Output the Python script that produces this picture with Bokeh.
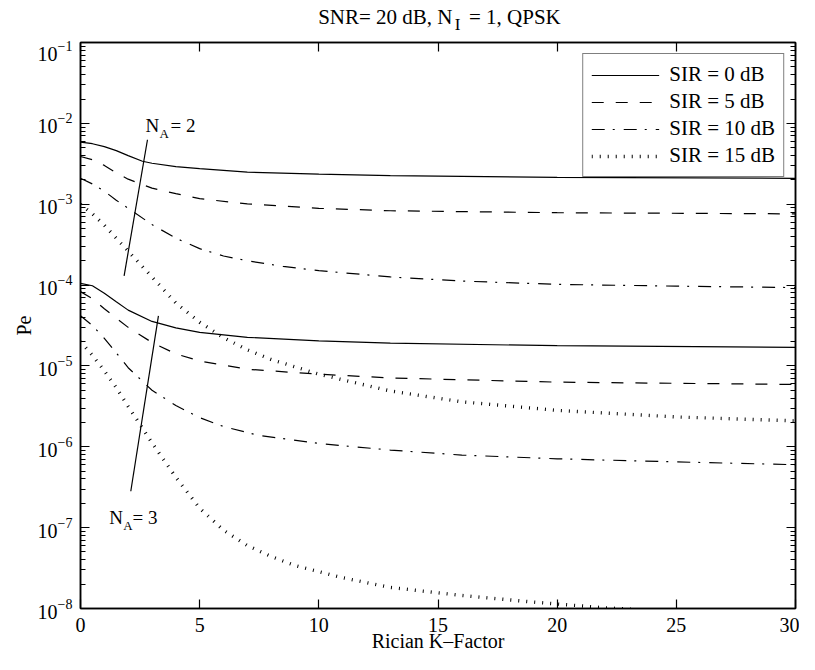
from bokeh.plotting import figure
from bokeh.layouts import column
from bokeh.models import (Range1d, LogAxis, LinearAxis, Label, Legend, LegendItem,
                          FixedTicker, LogTickFormatter)
from bokeh.core.properties import value
from bokeh.embed import file_html
from bokeh.resources import INLINE

FONT = "Liberation Serif"

# ---------------- data ----------------
# N_A = 2
k_na2_sir0 = [0, 0.5, 1, 1.5, 2, 2.6, 3, 4, 5, 7, 10, 13, 20, 30]
pe_na2_sir0 = [5.87e-3, 5.60e-3, 5.16e-3, 4.60e-3, 3.99e-3, 3.40e-3, 3.21e-3, 2.91e-3,
               2.75e-3, 2.49e-3, 2.35e-3, 2.26e-3, 2.15e-3, 2.09e-3]

k_na2_sir5 = [0, 0.5, 1, 1.5, 2, 3, 4, 5, 7, 10, 13, 20, 30]
pe_na2_sir5 = [3.89e-3, 3.55e-3, 3.02e-3, 2.45e-3, 2.04e-3, 1.58e-3, 1.35e-3, 1.17e-3,
               1.01e-3, 8.9e-4, 8.3e-4, 7.85e-4, 7.6e-4]

k_na2_sir10 = [0, 0.5, 1, 1.5, 2, 3, 4, 5, 6, 7, 8.5, 10, 13, 16, 20, 25, 30]
pe_na2_sir10 = [2.09e-3, 1.78e-3, 1.45e-3, 1.12e-3, 8.9e-4, 5.6e-4, 3.8e-4, 2.82e-4,
                2.29e-4, 2.0e-4, 1.70e-4, 1.51e-4, 1.26e-4, 1.12e-4, 1.02e-4, 9.7e-5, 9.3e-5]

k_na2_sir15 = [0, 0.5, 1, 1.5, 2, 3, 4, 5, 6, 7, 8, 10, 13, 16, 20, 25, 30]
pe_na2_sir15 = [1.0e-3, 7.6e-4, 5.5e-4, 3.8e-4, 2.63e-4, 1.26e-4, 6.0e-5, 3.47e-5,
                2.24e-5, 1.58e-5, 1.20e-5, 7.9e-6, 4.9e-6, 3.6e-6, 2.82e-6, 2.34e-6, 2.09e-6]

# N_A = 3
k_na3_sir0 = [0, 0.5, 1, 1.5, 2, 3, 4, 5, 7, 10, 13, 20, 30]
pe_na3_sir0 = [1.05e-4, 9.8e-5, 7.9e-5, 6.2e-5, 4.9e-5, 3.55e-5, 2.95e-5, 2.60e-5,
               2.26e-5, 2.04e-5, 1.91e-5, 1.78e-5, 1.70e-5]

k_na3_sir5 = [0, 0.5, 1, 1.5, 2, 3, 4, 5, 7, 10, 13, 20, 30]
pe_na3_sir5 = [8.3e-5, 6.8e-5, 5.1e-5, 3.9e-5, 3.0e-5, 1.95e-5, 1.41e-5, 1.15e-5,
               9.1e-6, 7.9e-6, 7.1e-6, 6.3e-6, 5.9e-6]

k_na3_sir10 = [0, 0.5, 1, 1.5, 2, 3, 4, 5, 6, 7.5, 10, 13, 16, 20, 25, 30]
pe_na3_sir10 = [4.17e-5, 3.16e-5, 2.19e-5, 1.45e-5, 9.5e-6, 5.0e-6, 3.24e-6, 2.29e-6,
                1.78e-6, 1.38e-6, 1.10e-6, 9.1e-7, 7.9e-7, 7.1e-7, 6.5e-7, 6.0e-7]

k_na3_sir15 = [0, 0.5, 1, 1.5, 2, 3, 4, 5, 6, 7, 8, 9, 11, 13, 16, 19, 22, 25, 30]
pe_na3_sir15 = [2.0e-5, 1.35e-5, 8.7e-6, 5.4e-6, 3.16e-6, 1.12e-6, 4.2e-7, 1.74e-7,
                9.3e-8, 6.0e-8, 4.4e-8, 3.4e-8, 2.4e-8, 1.82e-8, 1.45e-8, 1.20e-8,
                1.02e-8, 9.1e-9, 7.9e-9]

# annotation pointer lines (K, Pe)
ptr_na2_k = [2.81, 1.83]
ptr_na2_pe = [6.27e-3, 1.30e-4]
ptr_na3_k = [3.27, 2.11]
ptr_na3_pe = [4.17e-5, 2.82e-7]

legend_labels = ["SIR = 0 dB", "SIR = 5 dB", "SIR = 10 dB", "SIR = 15 dB"]
x_ticks = [0, 5, 10, 15, 20, 25, 30]
y_ticks = [1e-8, 1e-7, 1e-6, 1e-5, 1e-4, 1e-3, 1e-2, 1e-1]

W = 799
LEFT = 80
RIGHT = 4
TITLE_H = 40

xr = Range1d(0, 30)

# ---------------- title strip (same x mapping as the plot) ----------------
tf = figure(width=W, height=TITLE_H, x_range=xr, y_range=Range1d(0, TITLE_H),
            output_backend="svg", toolbar_location=None,
            min_border_left=LEFT, min_border_right=RIGHT, min_border_top=0, min_border_bottom=0)
tf.axis.visible = False
tf.grid.visible = False
tf.outline_line_color = None
tf.background_fill_color = "white"
tf.border_fill_color = "white"
tf.text(x=[15.61], y=[24], text=["SNR= 20 dB, N"], text_font=value(FONT),
        text_font_size="21px", text_align="right", text_baseline="alphabetic", text_color="black")
tf.text(x=[15.70], y=[16], text=["I"], text_font=value(FONT),
        text_font_size="17px", text_align="left", text_baseline="alphabetic", text_color="black")
tf.text(x=[16.30], y=[24], text=["= 1, QPSK"], text_font=value(FONT),
        text_font_size="21px", text_align="left", text_baseline="alphabetic", text_color="black")

# ---------------- main figure ----------------
p = figure(width=W, height=654 - TITLE_H, y_axis_type="log",
           x_range=xr, y_range=Range1d(1e-8, 1e-1),
           output_backend="svg", toolbar_location=None,
           min_border_left=LEFT, min_border_right=RIGHT, min_border_top=2, min_border_bottom=10)
p.grid.visible = False
p.outline_line_color = "black"
p.outline_line_width = 1.5
p.background_fill_color = "white"
p.border_fill_color = "white"

minor = [m * t for t in y_ticks[:-1] for m in range(2, 10)]
yticker = FixedTicker(ticks=y_ticks, minor_ticks=minor)
xticker = FixedTicker(ticks=x_ticks)

def style_axis(ax, labels=True):
    ax.axis_line_color = "black"
    ax.axis_line_width = 1.5
    ax.major_tick_line_color = "black"
    ax.major_tick_line_width = 1.2
    ax.minor_tick_line_color = "black"
    ax.minor_tick_line_width = 1.0
    ax.major_tick_in = 9
    ax.major_tick_out = 0
    ax.minor_tick_in = 5
    ax.minor_tick_out = 0
    ax.major_label_text_font = FONT
    if labels:
        ax.major_label_text_font_size = "20px"
        ax.major_label_text_color = "black"
    else:
        ax.major_label_text_font_size = "1px"
        ax.major_label_text_color = None
        ax.major_label_standoff = 0

xa = p.xaxis[0]
xa.ticker = xticker
style_axis(xa)
xa.minor_tick_line_color = None
xa.major_label_standoff = 9
xa.axis_label = "Rician K\u2013Factor"
xa.axis_label_text_font = FONT
xa.axis_label_text_font_size = "20px"
xa.axis_label_text_font_style = "normal"
xa.axis_label_text_color = "black"
xa.axis_label_standoff = -5

ya = p.yaxis[0]
ya.ticker = yticker
ya.formatter = LogTickFormatter()
style_axis(ya)
ya.major_label_standoff = 8
ya.axis_label = "Pe"
ya.axis_label_text_font = FONT
ya.axis_label_text_font_size = "20px"
ya.axis_label_text_font_style = "normal"
ya.axis_label_text_color = "black"
ya.axis_label_standoff = 0

ra = LogAxis(ticker=yticker)
style_axis(ra, labels=False)
p.add_layout(ra, "right")

ta = LinearAxis(ticker=xticker)
style_axis(ta, labels=False)
ta.minor_tick_line_color = None
p.add_layout(ta, "above")

# ---------------- curves ----------------
dash = "12 12"
dashdot = "13 8 2 9"
dot = "1 7"
styles = [("solid", 1.2), (dash, 1.2), (dashdot, 1.2), (dot, 3.4)]

na2 = [(k_na2_sir0, pe_na2_sir0), (k_na2_sir5, pe_na2_sir5),
       (k_na2_sir10, pe_na2_sir10), (k_na2_sir15, pe_na2_sir15)]
na3 = [(k_na3_sir0, pe_na3_sir0), (k_na3_sir5, pe_na3_sir5),
       (k_na3_sir10, pe_na3_sir10), (k_na3_sir15, pe_na3_sir15)]

items = []
for (k, pe), (ld, lw), lab_txt in zip(na2, styles, legend_labels):
    r = p.line(k, pe, line_color="black", line_width=lw, line_dash=ld)
    items.append(LegendItem(label=lab_txt, renderers=[r]))
for (k, pe), (ld, lw) in zip(na3, styles):
    p.line(k, pe, line_color="black", line_width=lw, line_dash=ld)

p.line(ptr_na2_k, ptr_na2_pe, line_color="black", line_width=1.2)
p.line(ptr_na3_k, ptr_na3_pe, line_color="black", line_width=1.2)

legend = Legend(items=items, location="top_right", margin=11,
                label_text_font=FONT, label_text_font_size="21px",
                label_text_color="black",
                border_line_color="black", border_line_width=1.3,
                padding=8, spacing=2, glyph_height=22, glyph_width=68,
                label_standoff=10, label_height=22,
                background_fill_color="white", background_fill_alpha=1.0)
p.add_layout(legend)

# ---------------- text annotations ----------------
def lab(x, y, text, size, align="left"):
    p.add_layout(Label(x=x, y=y, text=text, text_font=FONT, text_font_size=size,
                       text_align=align, text_baseline="alphabetic", text_color="black"))

# N_A = 2
lab(2.727, 10 ** -2.032, "N", "19px")
lab(3.315, 10 ** -2.131, "A", "13px")
lab(3.776, 10 ** -2.032, "= 2", "19px")

# N_A = 3
lab(1.204, 10 ** -6.869, "N", "19px")
lab(1.792, 10 ** -6.968, "A", "13px")
lab(2.182, 10 ** -6.869, "= 3", "19px")

layout = column(tf, p, spacing=0)
open("out.html", "w").write(file_html(layout, INLINE))
